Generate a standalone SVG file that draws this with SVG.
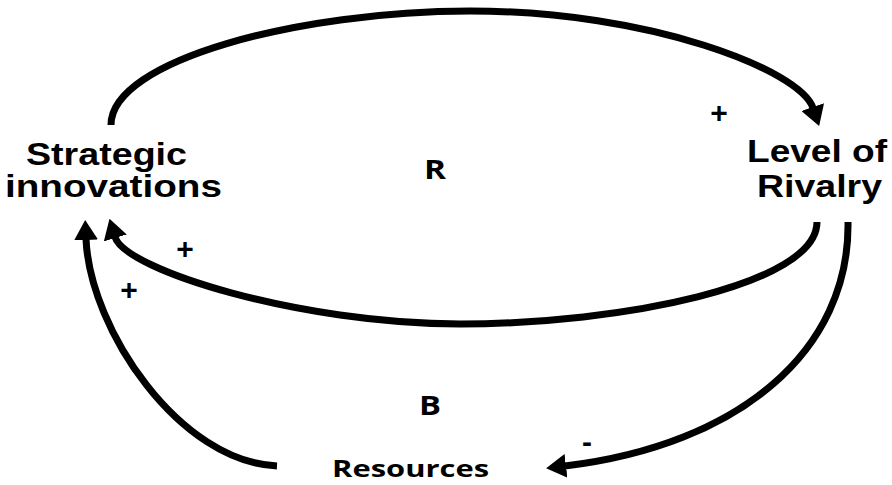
<svg xmlns="http://www.w3.org/2000/svg" width="892" height="485" viewBox="0 0 892 485">
  <style>
    .node { font-family: "Liberation Sans", Arial, sans-serif; font-weight: bold; font-size: 31px; fill: #000; }
    .loop { font-family: "Open Sans", "DejaVu Sans", sans-serif; font-weight: bold; font-size: 26px; fill: #000; }
    .res { font-family: "Open Sans", "DejaVu Sans", sans-serif; font-weight: bold; font-size: 23px; fill: #000; }
    .sign { font-family: "Liberation Sans", Arial, sans-serif; font-weight: bold; font-size: 30px; fill: #000; text-anchor: middle; }
    .link { fill: none; stroke: #000; stroke-width: 7; marker-end: url(#head); }
  </style>
  <defs>
    <marker id="head" markerUnits="userSpaceOnUse" markerWidth="20" markerHeight="24" viewBox="0 0 20 24" refX="1" refY="12" orient="auto">
      <path d="M0,0 L20,12 L0,24 Z" fill="#000"/>
    </marker>
  </defs>

  <rect width="892" height="485" fill="#fff"/>

  <g id="connectors">
    <!-- Strategic innovations -> Level of Rivalry (top arc) -->
    <path class="link" d="M111,125 C111,60 300,11 470,11 C650,11 800,70 813,108"/>
    <!-- Level of Rivalry -> Strategic innovations (inner lower arc) -->
    <path class="link" d="M817,222 C817,285 620,324 460,324 C300,324 125,270 115,237"/>
    <!-- Level of Rivalry -> Resources -->
    <path class="link" d="M848,222 C850,350 740,445 565,466"/>
    <!-- Resources -> Strategic innovations -->
    <path class="link" d="M277,466 C180,462 90,330 86,239"/>
  </g>

  <g id="strategic-innovations">
    <text class="node" x="26" y="165" textLength="161" lengthAdjust="spacingAndGlyphs">Strategic</text>
    <text class="node" x="5" y="197" textLength="217" lengthAdjust="spacingAndGlyphs">innovations</text>
  </g>

  <g id="level-of-rivalry">
    <text class="node" x="747" y="162" textLength="140" lengthAdjust="spacingAndGlyphs">Level of</text>
    <text class="node" x="757" y="197" textLength="125" lengthAdjust="spacingAndGlyphs">Rivalry</text>
  </g>

  <g id="resources">
    <text class="res" x="332" y="477" textLength="157" lengthAdjust="spacingAndGlyphs">Resources</text>
  </g>

  <g id="loop-labels">
    <text class="loop" x="424" y="179" textLength="22" lengthAdjust="spacingAndGlyphs">R</text>
    <text class="loop" x="419" y="415" textLength="22" lengthAdjust="spacingAndGlyphs">B</text>
  </g>

  <g id="polarities">
    <text class="sign" x="719" y="122.5">+</text>
    <text class="sign" x="185" y="258.5">+</text>
    <text class="sign" x="129" y="299.5">+</text>
    <text class="sign" x="587" y="451.5" font-size="32">-</text>
  </g>
</svg>
